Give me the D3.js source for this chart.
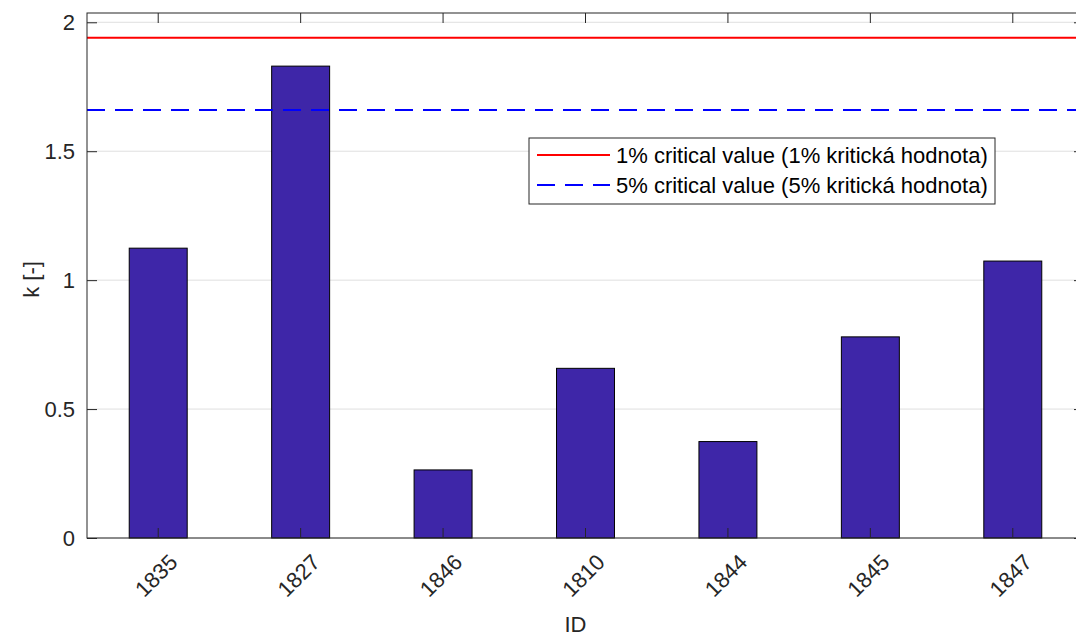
<!DOCTYPE html>
<html>
<head>
<meta charset="utf-8">
<script src="https://cdn.jsdelivr.net/npm/d3@7"></script>
<style>
  html, body { margin: 0; padding: 0; background: #fff; }
  svg { display: block; font-family: "Liberation Sans", Arial, sans-serif; }
</style>
</head>
<body>
<svg id="chart" width="1076" height="637"></svg>
<script>
// Station IDs and their test statistic k
const categories = ["1835", "1827", "1846", "1810", "1844", "1845", "1847"];
const kValues = [1.124, 1.830, 0.264, 0.658, 0.374, 0.780, 1.074];
const yTicks = [0, 0.5, 1, 1.5, 2];
// Critical values of the test
const critical1 = 1.94;
const critical5 = 1.66;
const legendLabels = [
  "1% critical value (1% kritická hodnota)",
  "5% critical value (5% kritická hodnota)"
];

const FONT = "22px";
const svg = d3.select("#chart");
const margin = { left: 87, top: 13, right: 1084, bottom: 538 };

const x = d3.scaleBand()
  .domain(categories)
  .range([margin.left, margin.right])
  .paddingInner(0.593)
  .paddingOuter(0.2965);

// band center
const xc = d => x(d) + x.bandwidth() / 2;

const y = d3.scaleLinear()
  .domain([0, 2.036])
  .range([margin.bottom, margin.top]);

const axisColor = "#262626";

// horizontal grid
svg.append("g")
  .selectAll("line")
  .data(yTicks)
  .join("line")
  .attr("x1", margin.left).attr("x2", margin.right)
  .attr("y1", d => y(d)).attr("y2", d => y(d))
  .attr("stroke", "#dfdfdf").attr("stroke-width", 1);

// bars
svg.append("g")
  .selectAll("rect")
  .data(categories.map((c, i) => ({ c, v: kValues[i] })))
  .join("rect")
  .attr("x", d => x(d.c))
  .attr("width", x.bandwidth())
  .attr("y", d => y(d.v))
  .attr("height", d => y(0) - y(d.v))
  .attr("fill", "#3e26a8")
  .attr("stroke", "#000")
  .attr("stroke-width", 1);

// critical value lines
svg.append("line")
  .attr("x1", margin.left).attr("x2", margin.right)
  .attr("y1", y(critical1)).attr("y2", y(critical1))
  .attr("stroke", "#ff0000").attr("stroke-width", 2);

svg.append("line")
  .attr("x1", margin.left).attr("x2", margin.right)
  .attr("y1", y(critical5)).attr("y2", y(critical5))
  .attr("stroke", "#0000ff").attr("stroke-width", 2)
  .attr("stroke-dasharray", "18,10");

// axes box
svg.append("rect")
  .attr("x", margin.left).attr("y", margin.top)
  .attr("width", margin.right - margin.left)
  .attr("height", margin.bottom - margin.top)
  .attr("fill", "none").attr("stroke", axisColor).attr("stroke-width", 1);

// left axis
svg.append("g")
  .attr("transform", `translate(${margin.left},0)`)
  .call(d3.axisLeft(y).tickValues(yTicks).tickSize(-10).tickPadding(12)
    .tickFormat(d => d3.format("")(d)))
  .call(g => g.select(".domain").remove())
  .call(g => g.selectAll("line").attr("stroke", axisColor))
  .call(g => g.selectAll("text").attr("fill", axisColor).style("font-size", FONT)
    .style("font-family", "Liberation Sans, Arial, sans-serif"));

// right axis ticks
svg.append("g")
  .attr("transform", `translate(${margin.right},0)`)
  .call(d3.axisRight(y).tickValues(yTicks).tickSize(-10).tickFormat(""))
  .call(g => g.select(".domain").remove())
  .call(g => g.selectAll("line").attr("stroke", axisColor));

// bottom ticks (inward) and top ticks
svg.append("g")
  .attr("transform", `translate(0,${margin.bottom})`)
  .call(d3.axisTop(x).tickSize(10).tickFormat(""))
  .call(g => g.select(".domain").remove())
  .call(g => g.selectAll("line").attr("stroke", axisColor));
svg.append("g")
  .attr("transform", `translate(0,${margin.top})`)
  .call(d3.axisBottom(x).tickSize(10).tickFormat(""))
  .call(g => g.select(".domain").remove())
  .call(g => g.selectAll("line").attr("stroke", axisColor));

// rotated x tick labels
svg.append("g")
  .selectAll("text")
  .data(categories)
  .join("text")
  .attr("transform", d => `translate(${xc(d) + 9},${margin.bottom + 14}) rotate(-45)`)
  .attr("text-anchor", "end")
  .attr("dy", "0.75em")
  .attr("fill", axisColor)
  .style("font-size", FONT)
  .text(d => d);

// axis titles
svg.append("text")
  .attr("x", (margin.left + margin.right) / 2 - 10)
  .attr("y", 632)
  .attr("text-anchor", "middle")
  .attr("fill", axisColor)
  .style("font-size", FONT)
  .text("ID");

svg.append("text")
  .attr("transform", `translate(39,${(margin.top + margin.bottom) / 2 + 4}) rotate(-90)`)
  .attr("text-anchor", "middle")
  .attr("fill", axisColor)
  .style("font-size", FONT)
  .text("k [-]");

// legend
const lg = svg.append("g").attr("transform", "translate(529,138)");
lg.append("rect")
  .attr("width", 466).attr("height", 66)
  .attr("fill", "#fff").attr("stroke", axisColor).attr("stroke-width", 1);
const legendStyles = [
  { color: "#ff0000", dash: null },
  { color: "#0000ff", dash: "18,10" }
];
legendLabels.forEach((label, i) => {
  const yy = 17 + i * 30;
  lg.append("line")
    .attr("x1", 8).attr("x2", 81)
    .attr("y1", yy).attr("y2", yy)
    .attr("stroke", legendStyles[i].color).attr("stroke-width", 2)
    .attr("stroke-dasharray", legendStyles[i].dash);
  lg.append("text")
    .attr("x", 87).attr("y", yy)
    .attr("dy", "0.36em")
    .attr("fill", "#000")
    .style("font-size", FONT)
    .text(label);
});
</script>
</body>
</html>
